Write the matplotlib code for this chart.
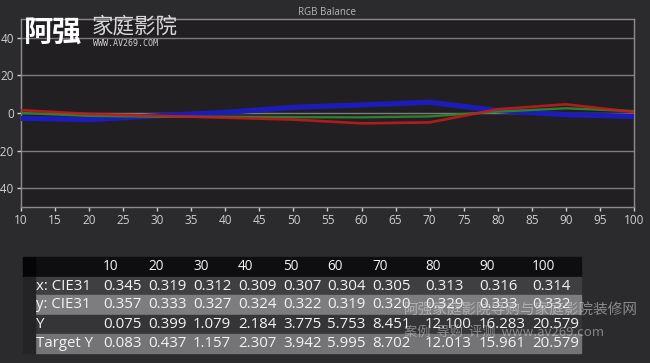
import matplotlib
matplotlib.use("Agg")
import matplotlib.pyplot as plt
from matplotlib.patches import Rectangle

# --- data ---
levels = [10, 20, 30, 40, 50, 60, 70, 80, 90, 100]
red = [1.5, -0.5, -1.5, -2.5, -3.5, -5.5, -5.0, 2.0, 4.6, 0.5]
green = [0.0, -1.5, -2.0, -2.0, -2.2, -2.3, -1.8, 0.7, 2.5, 1.0]
blue = [-2.8, -3.5, -1.5, 0.3, 3.0, 4.3, 5.7, 1.3, -0.9, -1.8]

row_labels = ["x: CIE31", "y: CIE31", "Y", "Target Y"]
x_cie = ["0.345", "0.319", "0.312", "0.309", "0.307", "0.304", "0.305", "0.313", "0.316", "0.314"]
y_cie = ["0.357", "0.333", "0.327", "0.324", "0.322", "0.319", "0.320", "0.329", "0.333", "0.332"]
Y_meas = ["0.075", "0.399", "1.079", "2.184", "3.775", "5.753", "8.451", "12.100", "16.283", "20.579"]
Y_target = ["0.083", "0.437", "1.157", "2.307", "3.942", "5.995", "8.702", "12.013", "15.961", "20.579"]

W, H = 650, 363
fig = plt.figure(figsize=(W / 100, H / 100), dpi=100)
fig.patch.set_facecolor("#2b2a2d")

def fx(px):
    return px / W

def fy(py):
    return 1 - py / H

# --- RGB balance chart ---
ax = fig.add_axes([fx(21), fy(207), fx(613), 188 / H])
ax.set_facecolor("#221f23")
ax.plot(levels, blue, color="#1c1cb8", lw=3.8, zorder=3)
ax.plot(levels, green, color="#2d7f2d", lw=1.7, zorder=4)
ax.plot(levels, red, color="#c01c1c", lw=1.9, zorder=5, alpha=0.9)

ax.set_xlim(10, 100)
ax.set_ylim(-50, 50)
ax.set_xticks(range(10, 101, 5))
ax.set_yticks([-40, -20, 0, 20, 40])
ax.grid(axis="y", color="#7c7b7e", lw=1.0)
ax.set_axisbelow(True)
for s in ax.spines.values():
    s.set_color("#8c8b8e")
    s.set_linewidth(1.0)
ax.tick_params(colors="#d0d0d0", labelsize=8.5, length=3, width=1, pad=2)
ax.set_title("RGB Balance", color="#b8b8b8", fontsize=7, pad=3, family="Open Sans")
for lab in ax.get_xticklabels() + ax.get_yticklabels():
    lab.set_family("Open Sans")

# --- watermark (top left) ---
cjk = ["Noto Sans CJK SC", "DejaVu Sans"]
fig.text(fx(24), fy(33), "阿强", color="white", fontsize=21, fontweight="bold",
         family=cjk, va="center", zorder=10)
fig.text(fx(92), fy(27), "家庭影院", color="#d8d8d8", fontsize=15.5,
         family=cjk, va="center", zorder=10)
fig.text(fx(93), fy(43), "WWW.AV269.COM", color="#cfcfcf", fontsize=6,
         family="DejaVu Sans Mono", va="center", zorder=10)

# --- table ---
rows_y = [257, 277, 295, 315, 334, 353]
row_colors = ["#0e0d10", "#3f3e41", "#7d7c7e", "#353437", "#747375"]
tbl_left, strip_right, tbl_right = 23, 35, 581
for i, c in enumerate(row_colors):
    y0, y1 = rows_y[i], rows_y[i + 1]
    fig.patches.append(Rectangle((fx(strip_right), fy(y1)), fx(tbl_right - strip_right), (y1 - y0) / H,
                                 transform=fig.transFigure, color=c, zorder=1))
    strip = "#050506" if i == 0 else "#242326"
    fig.patches.append(Rectangle((fx(tbl_left), fy(y1)), fx(strip_right - tbl_left), (y1 - y0) / H,
                                 transform=fig.transFigure, color=strip, zorder=1))

col_x = [103, 148, 193, 238, 283, 327, 372, 425, 479, 532]
tfont = dict(color="#f4f4f4", fontsize=10.8, family="Open Sans", va="center", zorder=2)
for lv, cx in zip(levels, col_x):
    fig.text(fx(cx), fy(267), str(lv), **dict(tfont, fontsize=9.8))
body = [x_cie, y_cie, Y_meas, Y_target]
for r, (lab, vals) in enumerate(zip(row_labels, body)):
    yc = (rows_y[r + 1] + rows_y[r + 2]) / 2
    fig.text(fx(36), fy(yc), lab, **tfont)
    for v, cx in zip(vals, col_x):
        fig.text(fx(cx), fy(yc), v, **tfont)

# --- watermark (bottom right) ---
fig.text(fx(404), fy(311), "阿强家庭影院导购与家庭影院装修网", color="#d8d8d8", alpha=0.55,
         fontsize=10.5, family=cjk, va="center", zorder=10)
fig.text(fx(404), fy(332), "案例  导购  评测  www.av269.com", color="#d8d8d8", alpha=0.5,
         fontsize=9.5, family=cjk, va="center", zorder=10)

fig.savefig("out.png", dpi=100, facecolor=fig.get_facecolor())
